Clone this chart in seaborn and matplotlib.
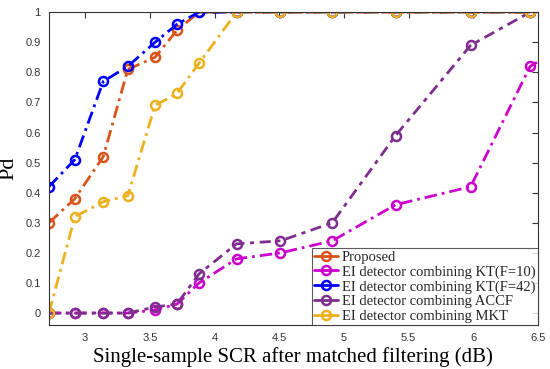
import matplotlib
matplotlib.use("Agg")
import matplotlib.pyplot as plt
import pandas as pd
import seaborn as sns

# SCR grid (dB)
scr = [2.72, 2.92, 3.14, 3.33, 3.54, 3.71, 3.88, 4.17, 4.51, 4.91, 5.40, 5.98, 6.44]

pd_proposed = [0.30, 0.38, 0.52, 0.81, 0.85, 0.94, 1.00, 1.00, 1.00, 1.00, 1.00, 1.00, 1.00]
pd_kt10 = [0.00, 0.00, 0.00, 0.00, 0.01, 0.03, 0.10, 0.18, 0.20, 0.24, 0.36, 0.42, 0.82]
pd_kt42 = [0.42, 0.51, 0.77, 0.82, 0.90, 0.96, 1.00, 1.00, 1.00, 1.00, 1.00, 1.00, 1.00]
pd_accf = [0.00, 0.00, 0.00, 0.00, 0.02, 0.03, 0.13, 0.23, 0.24, 0.30, 0.59, 0.89, 1.00]
pd_mkt = [0.00, 0.32, 0.37, 0.39, 0.69, 0.73, 0.83, 1.00, 1.00, 1.00, 1.00, 1.00, 1.00]

# the KT(F=10) curve runs on past the right edge
scr_kt10 = scr + [6.60]
pd_kt10 = pd_kt10 + [0.86]

labels = ["Proposed",
          "EI detector combining KT(F=10)",
          "EI detector combining KT(F=42)",
          "EI detector combining ACCF",
          "EI detector combining MKT"]
colors = ["#D95319", "#CC00CC", "#0000FF", "#7E2F8E", "#EDB120"]
dashdot = (0, (4.5, 1.8, 1.0, 1.8))
accf_dash = (0, (4.0, 2.0, 1.5, 2.0))
styles = [dashdot, dashdot, dashdot, accf_dash, dashdot]

series = [(scr, pd_proposed), (scr_kt10, pd_kt10), (scr, pd_kt42),
          (scr, pd_accf), (scr, pd_mkt)]

sns.set_style("white")
plt.rcParams['font.family'] = ['Liberation Sans', 'DejaVu Sans']

fig = plt.figure(figsize=(5.5, 3.69), dpi=100)
ax = fig.add_axes([0.089, 0.119, 0.889, 0.848])

for (x, y), lab, c, ls in zip(series, labels, colors, styles):
    df = pd.DataFrame({"x": x, "y": y})
    sns.lineplot(data=df, x="x", y="y", ax=ax, label=lab, color=c,
                 linestyle=ls, linewidth=2.0, marker="o", markersize=6.5,
                 markerfacecolor="none", markeredgecolor=c,
                 markeredgewidth=1.8, clip_on=True)

ax.set_xlim(2.72, 6.5)
ax.set_ylim(-0.04, 1.0)
ax.set_xticks([3, 3.5, 4, 4.5, 5, 5.5, 6, 6.5])
ax.set_xticklabels(["3", "3.5", "4", "4.5", "5", "5.5", "6", "6.5"])
ax.set_yticks([0, 0.1, 0.2, 0.3, 0.4, 0.5, 0.6, 0.7, 0.8, 0.9, 1])
ax.set_yticklabels(["0", "0.1", "0.2", "0.3", "0.4", "0.5", "0.6", "0.7", "0.8", "0.9", "1"])
ax.tick_params(direction="in", top=True, right=True, length=4, width=0.8,
               labelsize=8, colors="#333333", pad=6)
for s in ax.spines.values():
    s.set_color("#333333")
    s.set_linewidth(0.8)

ax.set_xlabel("Single-sample SCR after matched filtering (dB)",
              family="Liberation Serif", fontsize=15, color="black", labelpad=3)
ax.set_ylabel("Pd", family="Liberation Serif", fontsize=16, color="black", labelpad=5)

leg = ax.legend(loc="lower right", borderaxespad=0, frameon=True, fancybox=False,
                prop={"family": "Liberation Serif", "size": 10.5},
                handlelength=1.6, handletextpad=0.3, labelspacing=0.1,
                borderpad=0.15)
leg.get_frame().set_edgecolor("#333333")
leg.get_frame().set_linewidth(0.8)
for h in leg.legend_handles:
    h.set_linestyle("-")

fig.savefig("out.png", dpi=100)
